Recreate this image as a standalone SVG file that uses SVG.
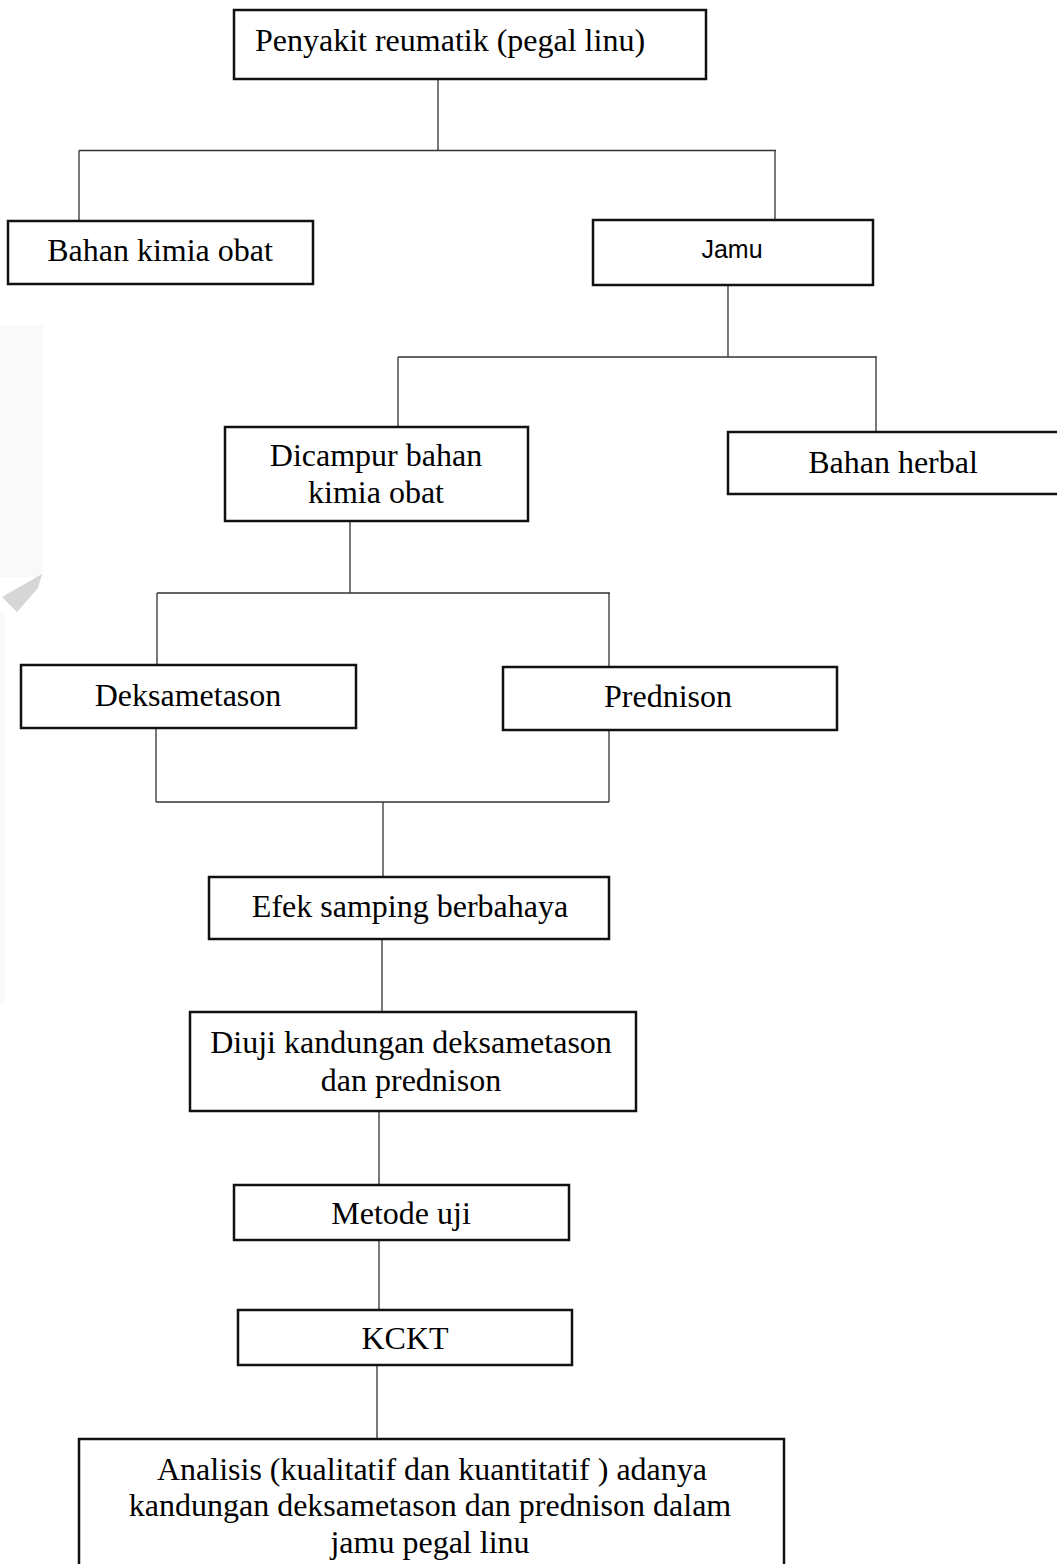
<svg xmlns="http://www.w3.org/2000/svg" width="1057" height="1564" viewBox="0 0 1057 1564">
<style>
.box{fill:#fff;stroke:#111;stroke-width:2.5}
.t{font-family:"Liberation Serif","Times New Roman",serif;font-size:32px;fill:#000;text-anchor:middle}
.s{font-family:"Liberation Sans",Arial,sans-serif;font-size:25px;fill:#000;text-anchor:middle}
.c{fill:none;stroke:#333;stroke-width:1.3}
</style>
<rect width="1057" height="1564" fill="#fff"/>
<g id="watermark">
<rect x="0" y="325" width="43" height="252" fill="#f9f9f9"/>
<polygon points="2,597 42,574 38,588 17,612" fill="#d6d6d6"/>
<rect x="0" y="613" width="5" height="390" fill="#fafafa"/>
</g>
<g id="connectors" class="c">
<path d="M438,79 V150.5 M79,150.5 H776 M79,150.5 V221 M775,150.5 V220"/>
<path d="M728,285 V357 M398,357 H877 M398,357 V427 M876,357 V432"/>
<path d="M350,521 V593 M157,593 H610 M157,593 V665 M609,593 V667"/>
<path d="M156,728 V802 M609,730 V802 M156,802 H609 M383,802 V877"/>
<path d="M382,939 V1012 M379,1112 V1185 M379,1240 V1310 M377,1365 V1438"/>
</g>
<g id="n-root"><rect class="box" x="234" y="10" width="472" height="69"/><text class="t" x="450" y="51">Penyakit reumatik (pegal linu)</text></g>
<g id="n-bahan-kimia"><rect class="box" x="8" y="221" width="305" height="63"/><text class="t" x="160" y="261">Bahan kimia obat</text></g>
<g id="n-jamu"><rect class="box" x="593" y="220" width="280" height="65"/><text class="s" x="732" y="258">Jamu</text></g>
<g id="n-dicampur"><rect class="box" x="225" y="427" width="303" height="94"/><text class="t" x="376" y="466">Dicampur bahan</text><text class="t" x="376" y="503">kimia obat</text></g>
<g id="n-herbal"><rect class="box" x="728" y="432" width="340" height="62"/><text class="t" x="893" y="473">Bahan herbal</text></g>
<g id="n-deksametason"><rect class="box" x="21" y="665" width="335" height="63"/><text class="t" x="188" y="706">Deksametason</text></g>
<g id="n-prednison"><rect class="box" x="503" y="667" width="334" height="63"/><text class="t" x="668" y="707">Prednison</text></g>
<g id="n-efek"><rect class="box" x="209" y="877" width="400" height="62"/><text class="t" x="410" y="917">Efek samping berbahaya</text></g>
<g id="n-diuji"><rect class="box" x="190" y="1012" width="446" height="99"/><text class="t" x="411" y="1053">Diuji kandungan deksametason</text><text class="t" x="411" y="1091">dan prednison</text></g>
<g id="n-metode"><rect class="box" x="234" y="1185" width="335" height="55"/><text class="t" x="401" y="1224">Metode uji</text></g>
<g id="n-kckt"><rect class="box" x="238" y="1310" width="334" height="55"/><text class="t" x="405" y="1349">KCKT</text></g>
<g id="n-analisis"><rect class="box" x="79" y="1439" width="705" height="140"/><text class="t" x="432" y="1480">Analisis (kualitatif dan kuantitatif ) adanya</text><text class="t" x="430" y="1516">kandungan deksametason dan prednison dalam</text><text class="t" x="430" y="1553">jamu pegal linu</text></g>
</svg>
